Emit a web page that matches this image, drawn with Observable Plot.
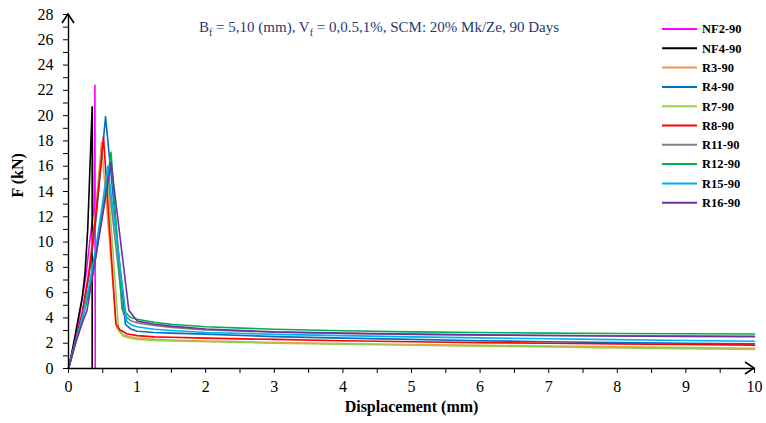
<!DOCTYPE html>
<html>
<head>
<meta charset="utf-8">
<script src="https://cdn.jsdelivr.net/npm/d3@7"></script>
<script src="https://cdn.jsdelivr.net/npm/@observablehq/plot@0.6"></script>
<style>
  html, body { margin: 0; padding: 0; background: #fff; }
  #chart { width: 766px; height: 423px; }
</style>
</head>
<body>
<div id="chart"></div>
<script>
// ---- Data ----
const seriesNames = ["NF2-90", "NF4-90", "R3-90", "R4-90", "R7-90", "R8-90", "R11-90", "R12-90", "R15-90", "R16-90"];
const seriesColors = ["#FF00FF", "#000000", "#F79646", "#0070C0", "#92D050", "#FF0000", "#808080", "#00B050", "#00B0F0", "#7030A0"];

const tailD = [1, 1.25, 1.5, 2, 3, 4, 5, 6, 7, 8, 9, 10];

const dispNF2 = [0, 0.08, 0.15, 0.25, 0.32, 0.37, 0.385, 0.39];
const forceNF2 = [0, 1.95, 3.8, 7.2, 10.5, 12.5, 22.4, 0];

const dispNF4 = [0, 0.05, 0.1, 0.15, 0.2, 0.24, 0.28, 0.345, 0.345];
const forceNF4 = [0, 1.3, 2.7, 4.2, 5.6, 7.5, 11, 20.7, 0];

const dispR3 = [0, 0.1, 0.2, 0.3, 0.4, 0.48, 0.7, 0.8, 0.9].concat(tailD);
const forceR3 = [0, 2.1, 4.4, 7.8, 12.6, 17.9, 3.2, 2.65, 2.5, 2.4, 2.3, 2.25, 2.18, 2.05, 1.97, 1.9, 1.83, 1.77, 1.71, 1.65, 1.6];

const dispR4 = [0, 0.1, 0.2, 0.3, 0.4, 0.54, 0.83, 0.9].concat(tailD);
const forceR4 = [0, 2.1, 4.3, 7.4, 11.8, 19.9, 3.5, 3.15, 2.95, 2.85, 2.8, 2.72, 2.52, 2.4, 2.3, 2.2, 2.12, 2.05, 2.0, 1.95];

const dispR7 = [0, 0.1, 0.2, 0.3, 0.4, 0.5, 0.57, 0.73, 0.8, 0.9].concat(tailD);
const forceR7 = [0, 2.0, 4.0, 6.3, 9.3, 12.7, 15.2, 3.0, 2.55, 2.4, 2.3, 2.22, 2.18, 2.12, 2.0, 1.92, 1.84, 1.77, 1.7, 1.63, 1.56, 1.5];

const dispR8 = [0, 0.1, 0.2, 0.3, 0.4, 0.51, 0.69, 0.75, 0.85].concat(tailD);
const forceR8 = [0, 2.1, 4.4, 7.6, 12.2, 18.3, 3.55, 3.05, 2.75, 2.6, 2.5, 2.47, 2.4, 2.3, 2.2, 2.12, 2.05, 2.0, 1.95, 1.9, 1.85];

const dispR11 = [0, 0.1, 0.2, 0.3, 0.4, 0.5, 0.58, 0.8, 0.9].concat(tailD);
const forceR11 = [0, 2.0, 4.0, 6.3, 9.2, 12.4, 15.0, 4.3, 3.8, 3.6, 3.4, 3.25, 3.05, 2.87, 2.77, 2.7, 2.65, 2.61, 2.58, 2.56, 2.55];

const dispR12 = [0, 0.1, 0.2, 0.3, 0.4, 0.5, 0.62, 0.78, 0.9].concat(tailD);
const forceR12 = [0, 2.0, 3.9, 6.0, 8.9, 12.5, 17.1, 4.7, 4.05, 3.9, 3.65, 3.5, 3.3, 3.1, 2.98, 2.9, 2.85, 2.8, 2.77, 2.75, 2.73];

const dispR15 = [0, 0.1, 0.2, 0.3, 0.4, 0.5, 0.57, 0.85, 0.92].concat(tailD);
const forceR15 = [0, 2.0, 4.0, 6.5, 9.6, 13.2, 16.0, 3.7, 3.45, 3.3, 3.1, 3.0, 2.85, 2.7, 2.6, 2.5, 2.42, 2.35, 2.28, 2.21, 2.15];

const dispR16 = [0, 0.1, 0.2, 0.27, 0.4, 0.5, 0.62, 0.88].concat(tailD);
const forceR16 = [0, 1.95, 3.6, 4.6, 8.9, 12.2, 16.3, 4.6, 3.75, 3.5, 3.35, 3.12, 2.9, 2.8, 2.72, 2.66, 2.61, 2.57, 2.54, 2.52];

const xDomain = [0, 10];
const yDomain = [0, 28];
const xTicks = d3.range(0, 10.001, 0.5);
const yTicks = d3.range(0, 28.001, 1);

const titleParts = [["B", false], ["f", true], [" = 5,10 (mm), V", false], ["f", true], [" = 0,0.5,1%, SCM: 20% Mk/Ze, 90 Days", false]];
const xLabel = "Displacement (mm)";
const yLabel = "F (kN)";

// ---- Build table ----
const seriesData = [
  [dispNF2, forceNF2], [dispNF4, forceNF4], [dispR3, forceR3], [dispR4, forceR4], [dispR7, forceR7],
  [dispR8, forceR8], [dispR11, forceR11], [dispR12, forceR12], [dispR15, forceR15], [dispR16, forceR16]
];
const rows = [];
seriesNames.forEach((name, i) => {
  const [xs, ys] = seriesData[i];
  xs.forEach((d, j) => rows.push({series: name, d, F: ys[j]}));
});

const font = "'Liberation Serif', 'Times New Roman', serif";

const plot = Plot.plot({
  width: 766,
  height: 423,
  marginLeft: 68,
  marginRight: 12,
  marginTop: 14,
  marginBottom: 55,
  x: {domain: xDomain},
  y: {domain: yDomain},
  color: {domain: seriesNames, range: seriesColors},
  style: {fontFamily: font, fontSize: "16px", color: "#000", background: "#fff", overflow: "visible"},
  marks: [
    Plot.line(rows, {x: "d", y: "F", z: "series", stroke: "series", strokeWidth: 1.6, curve: "linear"}),
    Plot.ruleX([xDomain[0]], {stroke: "#000", strokeWidth: 1.4}),
    Plot.ruleY([yDomain[0]], {stroke: "#000", strokeWidth: 1.4}),
    Plot.axisX({ticks: xTicks, tickFormat: d => Number.isInteger(d) ? String(d) : "", tickSize: 5, tickPadding: 7, label: null, fontSize: 16, stroke: "#000"}),
    Plot.axisY({ticks: yTicks, tickFormat: d => d % 2 === 0 ? String(d) : "", tickSize: 5, tickPadding: 10, label: null, fontSize: 16, stroke: "#000"}),
    Plot.text([xLabel], {frameAnchor: "bottom", dy: 43, fontWeight: "bold", fontSize: 16, text: d => d}),
    Plot.text([yLabel], {frameAnchor: "left", dx: -51, dy: 6, rotate: -90, fontWeight: "bold", fontSize: 16, text: d => d})
  ]
});

document.getElementById("chart").appendChild(plot);

// ---- Decorations: arrows, title, legend ----
const svg = d3.select(plot);
const sx = plot.scale("x"), sy = plot.scale("y");
const x0 = sx.apply(xDomain[0]), x1 = sx.apply(xDomain[1]);
const y0 = sy.apply(yDomain[0]), y1 = sy.apply(yDomain[1]);
const g = svg.append("g").attr("fill", "none").attr("stroke", "#000").attr("stroke-width", 1.6);
g.append("path").attr("d", `M${x0 - 6},${y1 + 9}L${x0},${y1}L${x0 + 6},${y1 + 9}`);
g.append("path").attr("d", `M${x1 - 9},${y0 - 6}L${x1},${y0}L${x1 - 9},${y0 + 6}`);

const title = svg.append("text")
  .attr("x", 379).attr("y", 32)
  .attr("text-anchor", "middle")
  .attr("fill", "#1F3A70")
  .style("font-family", font)
  .style("font-size", "15px");
titleParts.forEach(([t, sub], i) => {
  const prevSub = i > 0 && titleParts[i - 1][1];
  const ts = title.append("tspan").text(t).attr("dy", sub ? 4 : (prevSub ? -4 : 0));
  if (sub) ts.style("font-size", "10px");
});

const legend = svg.append("g").attr("text-anchor", "start");
seriesNames.forEach((name, i) => {
  const y = 29 + i * 19.3;
  legend.append("line").attr("x1", 662).attr("x2", 697).attr("y1", y).attr("y2", y)
    .attr("stroke", seriesColors[i]).attr("stroke-width", 2);
  legend.append("text").attr("x", 702).attr("y", y).attr("dy", "0.35em")
    .attr("text-anchor", "start")
    .style("font-family", font).style("font-size", "12.5px").style("font-weight", "bold")
    .attr("fill", "#000").text(name);
});
</script>
</body>
</html>
